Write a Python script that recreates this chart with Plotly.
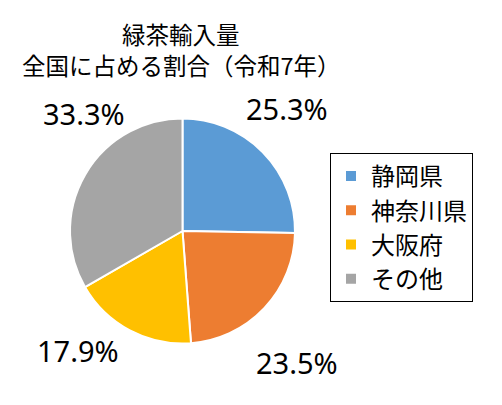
import plotly.graph_objects as go

# 緑茶輸入量 全国に占める割合（令和7年）
regions = ["静岡県", "神奈川県", "大阪府", "その他"]
shares = [25.3, 23.5, 17.9, 33.3]
colors = ["#5B9BD5", "#ED7D31", "#FFC000", "#A5A5A5"]
title_lines = ["緑茶輸入量", "全国に占める割合（令和7年）"]

# where Excel put the percent labels (screen px)
label_xy = [(287, 108), (297, 362), (78, 350), (84, 113)]

W, H = 502, 405
OFF = 8  # the page body has an 8px margin, shift everything back by that
jp_font = "Noto Sans CJK JP"


def px_x(x):
    return (x - OFF) / W


def px_y(y):
    return 1 - (y - OFF) / H


cx, cy, r = 182.5, 231, 112.5

fig = go.Figure()
fig.add_trace(go.Pie(
    labels=regions,
    values=shares,
    sort=False,
    direction="clockwise",
    rotation=0,
    marker=dict(colors=colors, line=dict(color="white", width=2)),
    textinfo="none",
    hoverinfo="label+percent",
    domain=dict(x=[px_x(cx - r), px_x(cx + r)],
                y=[px_y(cy + r), px_y(cy - r)]),
))

annotations = []
# title as two separate lines so each sits where the reference has it
for line, ty in zip(title_lines, [34, 65]):
    annotations.append(dict(
        text=line, x=px_x(181), y=px_y(ty), xref="paper", yref="paper",
        xanchor="center", yanchor="middle", showarrow=False,
        font=dict(family=jp_font, size=23.5, color="#000000"),
    ))
for v, (lx, ly) in zip(shares, label_xy):
    annotations.append(dict(
        text=f"{v:.1f}%", x=px_x(lx), y=px_y(ly),
        xref="paper", yref="paper", xanchor="center", yanchor="middle",
        showarrow=False,
        font=dict(family="Noto Sans", size=29, color="#000000"),
    ))

fig.update_layout(
    width=W, height=H,
    margin=dict(l=0, r=0, t=0, b=0),
    paper_bgcolor="white",
    showlegend=True,
    legend=dict(
        x=px_x(330), y=px_y(153), xanchor="left", yanchor="top",
        bordercolor="black", borderwidth=1,
        font=dict(family=jp_font, size=24, color="#000000"),
        itemwidth=30,
    ),
    annotations=annotations,
)

fig.write_html("out.html")
